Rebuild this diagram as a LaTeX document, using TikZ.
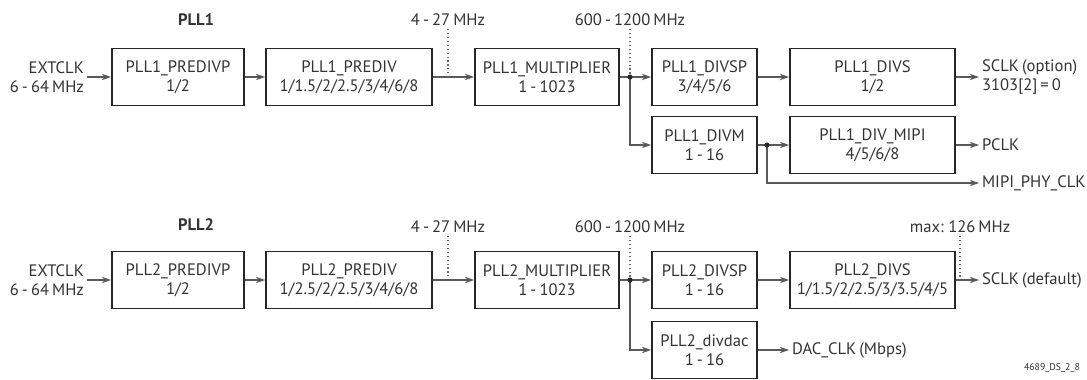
\documentclass[tikz,border=0pt]{standalone}
\usepackage{fontspec}
\setmainfont{PT Sans}[WordSpace=0.7]
\usepackage{tikz}
\usetikzlibrary{arrows.meta,calc,positioning}

\newcommand\pxu{0.025cm}

\begin{document}
\begin{tikzpicture}[x=0.025cm,y=-0.025cm,
  font=\fontsize{11.8}{13.5}\selectfont,
  blk/.style={draw=black!85,line width=1.3pt,minimum height=57*\pxu,align=center,inner sep=0pt,text=black!80},
  sig/.style={-{Stealth[length=6.5pt,width=4.5pt,inset=2pt]},black!65,line width=0.9pt},
  wire/.style={black!65,line width=0.9pt},
  fq/.style={black!60,dotted,line width=0.8pt},
  lbl/.style={text=black!80,inner sep=2pt}]
\useasboundingbox (0,0) rectangle (1087,380);
\node[lbl,font=\fontsize{11.8}{13.5}\selectfont\bfseries] (t1) at (196,20) {PLL1};
\node[lbl,align=right,anchor=east] (ext1) at (87,77) {EXTCLK\\6 - 64 MHz};
\node[blk,minimum width=132*\pxu] (p1pdp) at (178,77) {PLL1\_PREDIVP\\1/2};
\node[blk,minimum width=166*\pxu] (p1pd) at (349,77) {PLL1\_PREDIV\\1/1.5/2/2.5/3/4/6/8};
\node[blk,minimum width=144*\pxu] (p1mul) at (547,77) {PLL1\_MULTIPLIER\\1 - 1023};
\node[blk,minimum width=105*\pxu] (p1dsp) at (704.5,77) {PLL1\_DIVSP\\3/4/5/6};
\node[blk,minimum width=165*\pxu] (p1ds) at (872.5,77) {PLL1\_DIVS\\1/2};
\node[blk,minimum width=105*\pxu] (p1dm) at (704.5,145) {PLL1\_DIVM\\1 - 16};
\node[blk,minimum width=165*\pxu] (p1mipi) at (872.5,145) {PLL1\_DIV\_MIPI\\4/5/6/8};
\node[lbl,align=left,anchor=west] (sclk1) at (979,77) {SCLK (option)\\3103[2] = 0};
\node[lbl,anchor=west] (pclk) at (979,145) {PCLK};
\node[lbl,anchor=west] (mipi) at (979,183) {MIPI\_PHY\_CLK};
\node[lbl] (f1a) at (448,20) {4 - 27 MHz};
\node[lbl] (f1b) at (630,20) {600 - 1200 MHz};
\coordinate (d1a) at (448,77);
\coordinate (j1) at (630,77);
\coordinate (j2) at (767,145);
\draw[fq] (f1a) -- (d1a);
\draw[fq] (f1b) -- (j1);
\draw[sig] (ext1) -- (p1pdp);
\draw[sig] (p1pdp) -- (p1pd);
\draw[sig] (p1pd) -- (p1mul);
\draw[wire] (p1mul) -- (j1);
\draw[sig] (j1) -- (p1dsp);
\draw[sig] (j1) |- (p1dm);
\draw[sig] (p1dsp) -- (p1ds);
\draw[sig] (p1ds) -- (sclk1);
\draw[wire] (p1dm) -- (j2);
\draw[sig] (j2) -- (p1mipi);
\draw[sig] (j2) |- (mipi);
\draw[sig] (p1mipi) -- (pclk);
\fill[black!85] (j1) circle (1.8pt) (j2) circle (1.8pt);

\node[lbl,font=\fontsize{11.8}{13.5}\selectfont\bfseries] (t2) at (196,225) {PLL2};
\node[lbl,align=right,anchor=east] (ext2) at (87,280) {EXTCLK\\6 - 64 MHz};
\node[blk,minimum width=132*\pxu] (p2pdp) at (178,280) {PLL2\_PREDIVP\\1/2};
\node[blk,minimum width=166*\pxu] (p2pd) at (349,280) {PLL2\_PREDIV\\1/2.5/2/2.5/3/4/6/8};
\node[blk,minimum width=144*\pxu] (p2mul) at (547,280) {PLL2\_MULTIPLIER\\1 - 1023};
\node[blk,minimum width=105*\pxu] (p2dsp) at (704.5,280) {PLL2\_DIVSP\\1 - 16};
\node[blk,minimum width=165*\pxu] (p2ds) at (872.5,280) {PLL2\_DIVS\\1/1.5/2/2.5/3/3.5/4/5};
\node[blk,minimum width=105*\pxu] (p2dac) at (704.5,350) {PLL2\_divdac\\1 - 16};
\node[lbl,anchor=west] (sclk2) at (979,280) {SCLK (default)};
\node[lbl,anchor=west] (dac) at (789,350) {DAC\_CLK (Mbps)};
\node[lbl] (f2a) at (448,227) {4 - 27 MHz};
\node[lbl] (f2b) at (630,227) {600 - 1200 MHz};
\node[lbl] (f2c) at (960,227) {max: 126 MHz};
\coordinate (d2a) at (448,280);
\coordinate (j3) at (630,280);
\coordinate (d2c) at (960,280);
\draw[fq] (f2a) -- (d2a);
\draw[fq] (f2b) -- (j3);
\draw[fq] (f2c) -- (d2c);
\draw[sig] (ext2) -- (p2pdp);
\draw[sig] (p2pdp) -- (p2pd);
\draw[sig] (p2pd) -- (p2mul);
\draw[wire] (p2mul) -- (j3);
\draw[sig] (j3) -- (p2dsp);
\draw[sig] (j3) |- (p2dac);
\draw[sig] (p2dsp) -- (p2ds);
\draw[sig] (p2ds) -- (sclk2);
\draw[sig] (p2dac) -- (dac);
\fill[black!85] (j3) circle (1.8pt);

\node[lbl,font=\fontsize{7}{8}\selectfont,anchor=south east] (docid) at (1083,376) {4689\_DS\_2\_8};
\end{tikzpicture}
\end{document}
